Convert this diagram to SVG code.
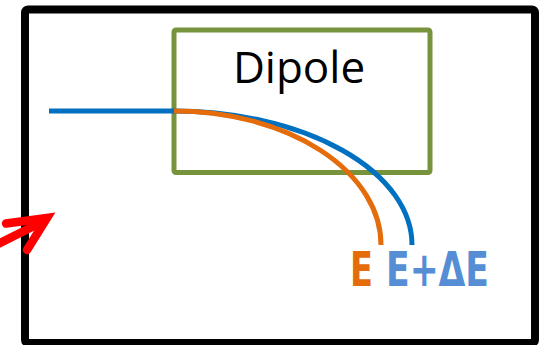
<svg xmlns="http://www.w3.org/2000/svg" width="539" height="345" viewBox="0 0 539 345">
  <style>
    .frame { fill: #ffffff; stroke: #000000; stroke-width: 8; }
    .dipole { fill: none; stroke: #77933C; stroke-width: 5; }
    .beam { fill: none; stroke-width: 5; stroke-linecap: butt; }
    .blue { stroke: #0070C0; }
    .orange { stroke: #E46C0A; }
    .label { font-family: "DejaVu Sans", "Liberation Sans", sans-serif; font-weight: bold; font-size: 48px; }
    .title { font-family: "Open Sans", "Noto Sans", sans-serif; font-size: 44px; fill: #000000; }
  </style>
  <rect width="539" height="345" fill="#ffffff"/>
  <g id="frame">
    <rect class="frame" x="25" y="9.5" width="510" height="333.5" rx="3"/>
  </g>
  <g id="dipole">
    <rect class="dipole" x="174" y="30" width="256" height="142.5" rx="2"/>
    <text class="title" x="299" y="83" text-anchor="middle">Dipole</text>
  </g>
  <g id="connectors">
    <line class="beam blue" x1="49" y1="111" x2="175" y2="111"/>
    <path class="beam blue" d="M174,111 A238,134 0 0 1 412,245"/>
    <path class="beam orange" d="M174,111 A207,134 0 0 1 381,245"/>
  </g>
  <g id="label-E">
    <text class="label" x="350" y="286" fill="#E46C0A" textLength="23" lengthAdjust="spacingAndGlyphs">E</text>
  </g>
  <g id="label-EdE">
    <text class="label" x="386" y="286" fill="#558ED5" textLength="103" lengthAdjust="spacingAndGlyphs">E+ΔE</text>
  </g>
  <g id="arrow" fill="none" stroke="#FF0000" stroke-width="8.5" stroke-linecap="round">
    <line x1="-12" y1="249" x2="40" y2="223"/>
    <polyline points="6,223.5 47,218 27,250" stroke-linejoin="miter"/>
    <polygon points="47,218 28,220.5 37,234" fill="#FF0000" stroke="none"/>
  </g>
</svg>
